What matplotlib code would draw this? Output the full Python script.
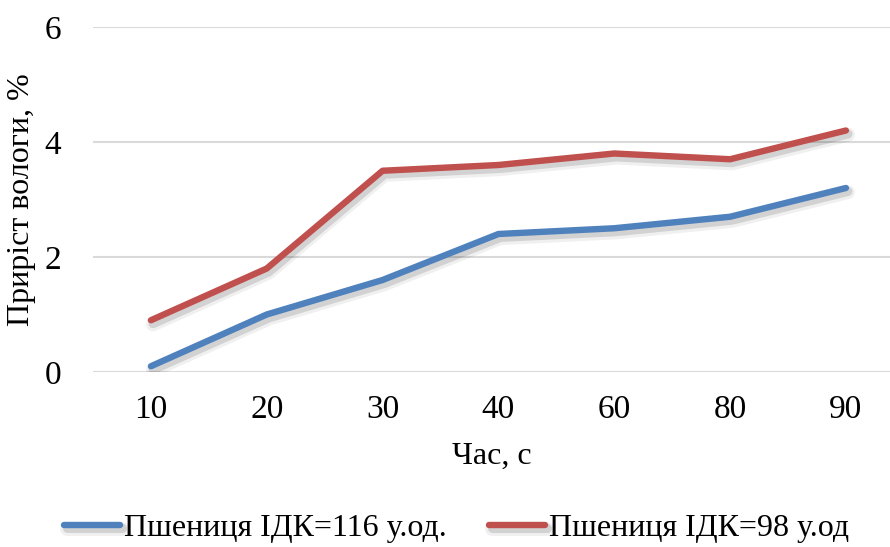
import matplotlib
matplotlib.use("Agg")
import matplotlib.pyplot as plt
import matplotlib.patheffects as pe

plt.rcParams['font.family'] = ['Liberation Serif', 'DejaVu Serif']

# дані
time_labels = ['10', '20', '30', '40', '60', '80', '90']
idk_116 = [0.1, 1.0, 1.6, 2.4, 2.5, 2.7, 3.2]
idk_98 = [0.9, 1.8, 3.5, 3.6, 3.8, 3.7, 4.2]
series_names = ['Пшениця ІДК=116 у.од.', 'Пшениця ІДК=98 у.од']
y_ticks = [0, 2, 4, 6]

blue = '#4F81BD'
red = '#C0504D'

W, H = 890, 547
fig = plt.figure(figsize=(W / 100, H / 100), dpi=100)
ax = fig.add_axes([93 / W, (H - 372) / H, (W - 93) / W, (372 - 27) / H])

# м'яка тінь під лініями
shadow = [
    pe.SimpleLineShadow(offset=(1.5, -3), shadow_color='black', alpha=0.06, linewidth=10),
    pe.SimpleLineShadow(offset=(1.5, -2.5), shadow_color='black', alpha=0.12, linewidth=6.5),
    pe.Normal(),
]

x = list(range(len(time_labels)))
for vals, col, name in [(idk_116, blue, series_names[0]), (idk_98, red, series_names[1])]:
    ax.plot(x, vals, color=col, lw=4.6, solid_capstyle='round',
            solid_joinstyle='round', label=name, path_effects=shadow)

step = (846 - 151) / 6
ax.set_xlim(-0.5, -0.5 + (W - 93) / step)
ax.set_ylim(0, 6)
ax.set_xticks(x)
ax.set_xticklabels(time_labels)
ax.set_yticks(y_ticks)
ax.tick_params(length=0, labelsize=24)
ax.tick_params(axis='y', pad=23)
ax.tick_params(axis='x', pad=16)
ax.grid(axis='y', color='#D9D9D9', lw=1.5)
ax.set_axisbelow(True)
for s in ax.spines.values():
    s.set_visible(False)

ax.set_xlabel('Час, с', fontsize=23, labelpad=12)
ax.set_ylabel('Приріст вологи, %', fontsize=23, labelpad=6)

leg = fig.legend(loc='center', bbox_to_anchor=(0.513, (H - 528) / H), ncol=2,
                 frameon=False, fontsize=23, handlelength=1.75, handletextpad=0.1,
                 columnspacing=1.35)

fig.savefig('out.png', dpi=100)
